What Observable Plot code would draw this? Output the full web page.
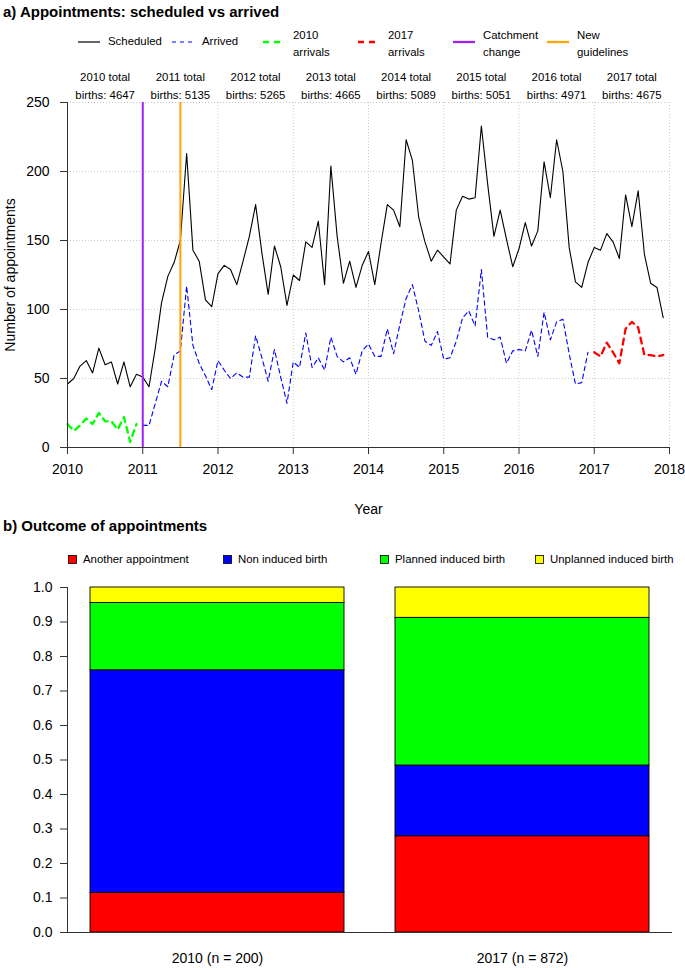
<!DOCTYPE html>
<html><head><meta charset="utf-8">
<script src="https://cdn.jsdelivr.net/npm/d3@7"></script>
<script src="https://cdn.jsdelivr.net/npm/@observablehq/plot@0.6"></script>
<style>
body{margin:0;background:#fff;font-family:"Liberation Sans",Arial,sans-serif;color:#000;}
#wrap{position:relative;width:685px;height:968px;overflow:hidden;}
.ttl{position:absolute;left:3px;font-weight:bold;font-size:15px;white-space:nowrap;line-height:1;}
.leg{position:absolute;font-size:11.4px;line-height:17px;white-space:nowrap;}
.leg svg{position:absolute;}
.plot{position:absolute;left:0;}
</style></head><body>
<div id="wrap"></div>
<script>
// ---------- data ----------
const years = [2010, 2011, 2012, 2013, 2014, 2015, 2016, 2017];
const totalBirths = [4647, 5135, 5265, 4665, 5089, 5051, 4971, 4675];
// monthly scheduled appointments, Jan 2010 .. Dec 2017
const scheduled = [
  46, 50, 59, 63, 54, 72, 60, 62, 46, 62, 44, 53,
  51, 44, 72, 105, 124, 134, 150, 213, 143, 135, 107, 102,
  126, 132, 129, 118, 135, 153, 176, 141, 111, 146, 131, 103,
  125, 121, 149, 145, 164, 118, 204, 153, 119, 135, 116, 132,
  142, 118, 148, 176, 172, 160, 223, 208, 167, 149, 135, 143,
  138, 133, 172, 182, 180, 181, 233, 191, 153, 172, 151, 131,
  144, 163, 146, 157, 207, 181, 223, 200, 145, 120, 116, 134,
  145, 143, 155, 149, 137, 183, 160, 186, 140, 119, 116, 94
];
// arrivals, Jan..Dec 2010
const arrivals2010 = [17, 12, 16, 21, 17, 25, 19, 19, 13, 22, 4, 17];
// arrivals, Jan 2011 .. Dec 2016
const arrived = [
  16, 16, 32, 48, 44, 67, 70, 117, 74, 61, 52, 42,
  63, 56, 50, 54, 51, 51, 81, 65, 48, 71, 51, 32,
  62, 58, 83, 58, 65, 56, 80, 66, 62, 65, 53, 70,
  75, 66, 66, 86, 68, 89, 108, 118, 99, 77, 74, 84,
  64, 65, 77, 94, 99, 88, 129, 80, 78, 80, 61, 70,
  71, 70, 85, 66, 98, 78, 91, 93, 68, 46, 47, 69
];
// arrivals, Jan..Dec 2017
const arrivals2017 = [69, 66, 76, 69, 61, 86, 91, 87, 67, 67, 66, 67];
const catchmentChange = 2011;
const newGuidelines = 2011.5;
const yTicksA = [0, 50, 100, 150, 200, 250];
const xTicksA = [2010, 2011, 2012, 2013, 2014, 2015, 2016, 2017, 2018];

const outcomeCategories = ["Another appointment", "Non induced birth", "Planned induced birth", "Unplanned induced birth"];
const outcomeColors = ["#ff0000", "#0000ff", "#00ff00", "#ffff00"];
const barLabels = ["2010 (n = 200)", "2017 (n = 872)"];
const outcome2010 = [0.115, 0.645, 0.195, 0.045];
const outcome2017 = [0.279, 0.205, 0.428, 0.088];
const yTicksB = [0, 0.1, 0.2, 0.3, 0.4, 0.5, 0.6, 0.7, 0.8, 0.9, 1.0];

// ---------- build ----------
const FONT = '"Liberation Sans", Arial, sans-serif';
const wrap = document.getElementById("wrap");
const monthly = (arr, startYear) => arr.map((v, i) => ({t: startYear + i / 12, v}));

const grid = {stroke: "#c8c8c8", strokeOpacity: 1, strokeDasharray: "1,2", strokeWidth: 1};
const axisStroke = "#333";

const plotA = Plot.plot({
  width: 685, height: 530,
  marginLeft: 67, marginRight: 16, marginTop: 102, marginBottom: 83,
  style: {fontFamily: FONT, fontSize: "14px", background: "transparent", overflow: "visible", color: "#000"},
  x: {domain: [2010, 2018]},
  y: {domain: [0, 250]},
  marks: [
    Plot.gridX(xTicksA.slice(1), grid),
    Plot.gridY(yTicksA.slice(1), grid),
    Plot.line(monthly(scheduled, 2010), {x: "t", y: "v", stroke: "#000", strokeWidth: 1.1}),
    Plot.line(monthly(arrived, 2011), {x: "t", y: "v", stroke: "#0000ff", strokeWidth: 1.1, strokeDasharray: "4.5,3.5"}),
    Plot.line(monthly(arrivals2010, 2010), {x: "t", y: "v", stroke: "#00ff00", strokeWidth: 2.3, strokeDasharray: "6,5"}),
    Plot.line(monthly(arrivals2017, 2017), {x: "t", y: "v", stroke: "#ff0000", strokeWidth: 2.3, strokeDasharray: "6,5"}),
    Plot.ruleX([catchmentChange], {stroke: "#a020f0", strokeWidth: 2}),
    Plot.ruleX([newGuidelines], {stroke: "#ffa500", strokeWidth: 2}),
    Plot.ruleY([0], {stroke: axisStroke}),
    Plot.ruleX([2010], {y1: 0, y2: 250, stroke: axisStroke}),
    Plot.axisX(xTicksA, {tickFormat: d => String(d), tickSize: 7, tickPadding: 10, stroke: axisStroke,
      label: "Year", labelAnchor: "center", labelOffset: 66, labelArrow: "none", fontSize: 14}),
    Plot.axisY(yTicksA, {tickSize: 7, tickPadding: 11, stroke: axisStroke,
      label: "Number of appointments", labelAnchor: "center", labelOffset: 62, labelArrow: "none", fontSize: 14}),
    Plot.text(years.map((y, i) => ({x: y + 0.5, label: `${y} total\nbirths: ${totalBirths[i]}`})),
      {x: "x", text: "label", frameAnchor: "top", dy: -18, lineAnchor: "middle", lineHeight: 1.5, fontSize: 11.4})
  ]
});
plotA.classList.add("plot");
plotA.style.top = "0px";
wrap.appendChild(plotA);

// titles
function addTitle(text, top) {
  const d = document.createElement("div");
  d.className = "ttl"; d.textContent = text; d.style.top = top + "px";
  wrap.appendChild(d);
}
addTitle("a) Appointments: scheduled vs arrived", 4);

// legend a
const legendA = [
  {label: "Scheduled", color: "#000", width: 1.2, dash: null, left: 78},
  {label: "Arrived", color: "#0000ff", width: 1.2, dash: "4,4", left: 172},
  {label: "2010\narrivals", color: "#00ff00", width: 2.3, dash: "6,5", left: 263},
  {label: "2017\narrivals", color: "#ff0000", width: 2.3, dash: "6,5", left: 358},
  {label: "Catchment\nchange", color: "#a020f0", width: 2.3, dash: null, left: 453},
  {label: "New\nguidelines", color: "#ffa500", width: 2.3, dash: null, left: 547}
];
legendA.forEach(it => {
  const d = document.createElement("div");
  d.className = "leg";
  d.style.left = it.left + "px";
  const lines = it.label.split("\n");
  d.style.top = (lines.length === 1 ? 33 : 27) + "px";
  const svg = `<svg width="24" height="6" style="left:0;top:${lines.length === 1 ? 6 : 12}px"><line x1="0" x2="22" y1="3" y2="3" stroke="${it.color}" stroke-width="${it.width}" ${it.dash ? `stroke-dasharray="${it.dash}"` : ""}/></svg>`;
  d.innerHTML = svg + `<div style="margin-left:30px">${lines.join("<br>")}</div>`;
  wrap.appendChild(d);
});

// panel b
addTitle("b) Outcome of appointments", 518);
outcomeCategories.forEach((c, i) => {
  const lefts = [68, 223, 380, 535];
  const d = document.createElement("div");
  d.className = "leg";
  d.style.left = lefts[i] + "px";
  d.style.top = "551px";
  d.innerHTML = `<svg width="10" height="10" style="left:0;top:4px"><rect x="0.5" y="0.5" width="8" height="8" fill="${outcomeColors[i]}" stroke="#000" stroke-width="0.8"/></svg><div style="margin-left:15px">${c}</div>`;
  wrap.appendChild(d);
});

const stackData = [];
[outcome2010, outcome2017].forEach((vals, gi) => {
  vals.forEach((v, ci) => stackData.push({group: barLabels[gi], category: outcomeCategories[ci], value: v}));
});

const plotB = Plot.plot({
  width: 685, height: 398,
  marginLeft: 67, marginRight: 13, marginTop: 17, marginBottom: 36,
  style: {fontFamily: FONT, fontSize: "14px", background: "transparent", overflow: "visible", color: "#000"},
  x: {domain: barLabels, paddingInner: 0.1667, paddingOuter: 0.075},
  y: {domain: [0, 1]},
  color: {domain: outcomeCategories, range: outcomeColors},
  marks: [
    Plot.barY(stackData, {x: "group", y: "value", fill: "category", stroke: "#000", strokeWidth: 0.9}),
    Plot.ruleY([0], {stroke: axisStroke}),
    Plot.frame({anchor: "left", stroke: axisStroke}),
    Plot.axisX({tickSize: 0, tickPadding: 21, label: null, fontSize: 14}),
    Plot.axisY(yTicksB, {tickSize: 7, tickPadding: 8, stroke: axisStroke, tickFormat: d3.format(".1f"), label: null, fontSize: 14})
  ]
});
plotB.classList.add("plot");
plotB.style.top = "570px";
wrap.appendChild(plotB);
</script>
</body></html>
